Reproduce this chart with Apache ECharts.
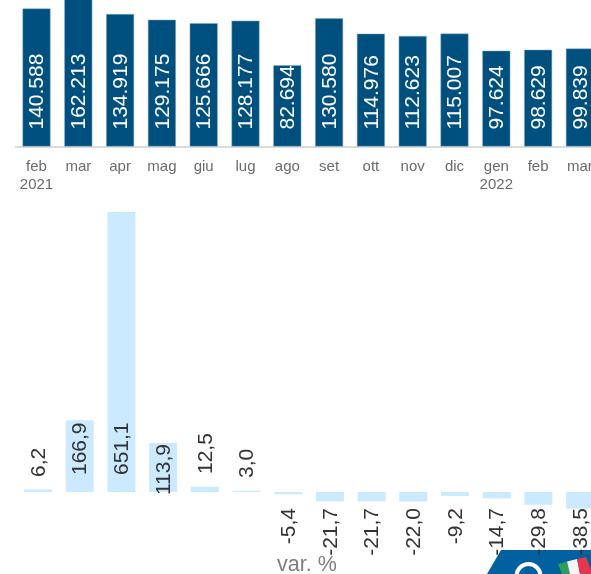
<!DOCTYPE html>
<html>
<head>
<meta charset="utf-8">
<style>
html, body { margin: 0; padding: 0; background: #fff; overflow: hidden; }
#chart { width: 591px; height: 574px; }
</style>
<script src="https://cdn.jsdelivr.net/npm/echarts@6/dist/echarts.min.js"></script>
</head>
<body>
<div id="chart"></div>
<script>
const monthLabels = ['feb\n2021', 'mar', 'apr', 'mag', 'giu', 'lug', 'ago', 'set', 'ott', 'nov', 'dic', 'gen\n2022', 'feb', 'mar'];
const totals = [140588, 162213, 134919, 129175, 125666, 128177, 82694, 130580, 114976, 112623, 115007, 97624, 98629, 99839];
const changes = [6.2, 166.9, 651.1, 113.9, 12.5, 3.0, -5.4, -21.7, -21.7, -22.0, -9.2, -14.7, -29.8, -38.5];

const font = '"Liberation Sans", Arial, sans-serif';

// labels above zero sit by hand in the original, a few are off the common line
const labelLift = { 0: 10, 3: -8, 4: 13, 5: 9 };

function changeLabel(v, i) {
    const lift = i in labelLift ? labelLift[i] : 12;
    // offset is in the rotated frame: its x runs up the screen
    return v >= 0
        ? { position: 'insideBottom', align: 'left', offset: [lift, 1] }
        : { position: 'insideTop', align: 'right', offset: [-11, 1] };
}

const chart = echarts.init(document.getElementById('chart'), null, { renderer: 'canvas' });

chart.setOption({
    animation: false,
    backgroundColor: '#fff',
    grid: [
        { left: 15.6, width: 585.2, top: -20, height: 166.5, outerBoundsMode: 'none' },
        { left: 17.15, width: 583.8, top: 200, height: 292, outerBoundsMode: 'none' }
    ],
    xAxis: [
        {
            gridIndex: 0,
            type: 'category',
            data: monthLabels,
            axisTick: { show: false },
            axisLine: { lineStyle: { color: '#d0d0d0', width: 1.5 } },
            axisLabel: { interval: 0, color: '#6b6b6b', fontFamily: font, fontSize: 15, lineHeight: 18, margin: 11 }
        },
        {
            gridIndex: 1,
            type: 'category',
            data: monthLabels,
            show: false
        }
    ],
    yAxis: [
        { gridIndex: 0, type: 'value', min: 0, max: 169600, show: false },
        { gridIndex: 1, type: 'value', min: 0, max: 679, show: false }
    ],
    series: [
        {
            type: 'bar',
            xAxisIndex: 0,
            yAxisIndex: 0,
            data: totals,
            barWidth: 28,
            itemStyle: { color: '#00507f', borderColor: '#8fb0c8', borderWidth: 0.5 },
            label: {
                show: true,
                position: 'insideBottom',
                rotate: 90,
                align: 'left',
                verticalAlign: 'middle',
                distance: 17,
                offset: [0, 1],
                color: '#fff',
                fontFamily: font,
                fontSize: 21,
                formatter: p => p.value.toLocaleString('de-DE')
            }
        },
        {
            type: 'bar',
            xAxisIndex: 1,
            yAxisIndex: 1,
            clip: false,
            barWidth: 28,
            data: changes.map((v, i) => ({ value: v, label: changeLabel(v, i) })),
            itemStyle: { color: '#cceaff' },
            label: {
                show: true,
                rotate: 90,
                verticalAlign: 'middle',
                color: '#333',
                fontFamily: font,
                fontSize: 21,
                formatter: p => p.value.toFixed(1).replace('.', ',')
            },
            z: 5
        }
    ],
    graphic: [
        {
            type: 'text',
            left: 277,
            top: 554,
            style: { text: 'var. %', fill: '#7f7f7f', font: '21.5px ' + font }
        },
        {
            type: 'polygon',
            z: 1,
            shape: { points: [[501, 550], [591, 550], [591, 574], [487, 574]] },
            style: { fill: '#0060a0' }
        },
        {
            type: 'circle',
            z: 2,
            shape: { cx: 528.5, cy: 576, r: 12 },
            style: { fill: '#0060a0', stroke: '#fff', lineWidth: 4 }
        },
        {
            type: 'polygon',
            z: 2,
            shape: { points: [[558, 564], [567, 561.5], [570, 574], [562, 574]] },
            style: { fill: '#2f9e5b' }
        },
        {
            type: 'polygon',
            z: 2,
            shape: { points: [[567, 561.5], [577, 559], [580, 574], [570, 574]] },
            style: { fill: '#f4f4f4' }
        },
        {
            type: 'polygon',
            z: 2,
            shape: { points: [[577, 559], [586, 557], [591, 570], [591, 574], [580, 574]] },
            style: { fill: '#e8354f' }
        }
    ]
});
</script>
</body>
</html>
